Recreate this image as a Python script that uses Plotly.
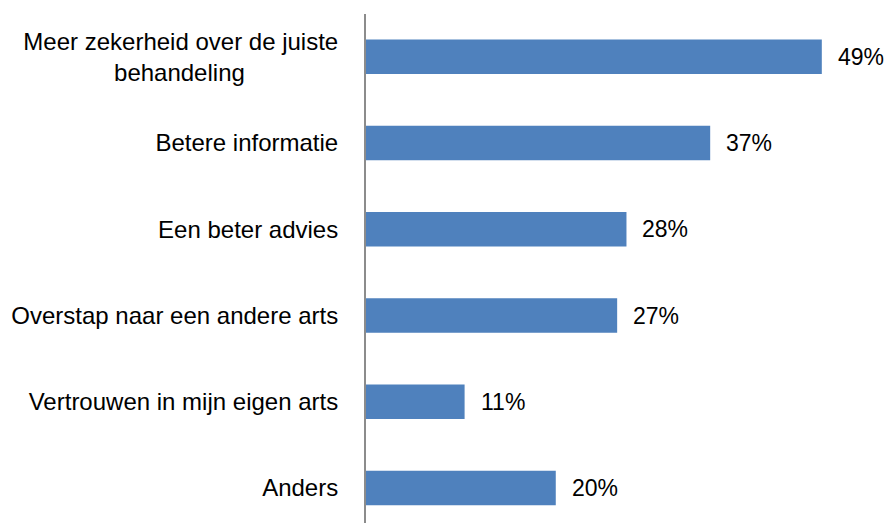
import plotly.graph_objects as go

categories = [
    "Anders",
    "Vertrouwen in mijn eigen arts",
    "Overstap naar een andere arts",
    "Een beter advies",
    "Betere informatie",
    "Meer zekerheid over de juiste behandeling",
]
tick_text = [
    "Anders",
    "Vertrouwen in mijn eigen arts",
    "Overstap naar een andere arts",
    "Een beter advies",
    "Betere informatie",
    "Meer zekerheid over de juiste<br>behandeling" + "\u00a0" * 14,
]
values = [20.4, 10.6, 27, 28, 37, 49]
labels = ["20%", "11%", "27%", "28%", "37%", "49%"]

FONT = "Liberation Sans, Arial, sans-serif"

fig = go.Figure()
fig.add_trace(go.Bar(
    x=values,
    y=categories,
    orientation="h",
    marker=dict(color="#4F81BD", line=dict(width=0)),
    hoverinfo="skip",
))

for v, c, t in zip(values, categories, labels):
    fig.add_annotation(
        x=v, y=c, text=t, showarrow=False,
        xanchor="left", yanchor="middle", xshift=14,
        font=dict(family=FONT, size=23, color="#000000"),
    )

fig.update_layout(
    width=886, height=523,
    margin=dict(l=366, r=0, t=14, b=0),
    plot_bgcolor="white", paper_bgcolor="white",
    bargap=0.6,
    showlegend=False,
    font=dict(family=FONT, size=24, color="#000000"),
)
fig.update_xaxes(
    range=[0, 55.9], visible=False, showgrid=False, zeroline=False,
)
fig.update_yaxes(
    type="category",
    categoryorder="array", categoryarray=categories,
    tickmode="array", tickvals=categories, ticktext=tick_text,
    range=[-0.406, 5.496],
    showline=True, linecolor="#8C8C8C", linewidth=2,
    ticks="", showgrid=False, zeroline=False,
    ticklabelstandoff=21,
    tickfont=dict(family=FONT, size=24, color="#000000"),
)

fig.write_html("out.html")
